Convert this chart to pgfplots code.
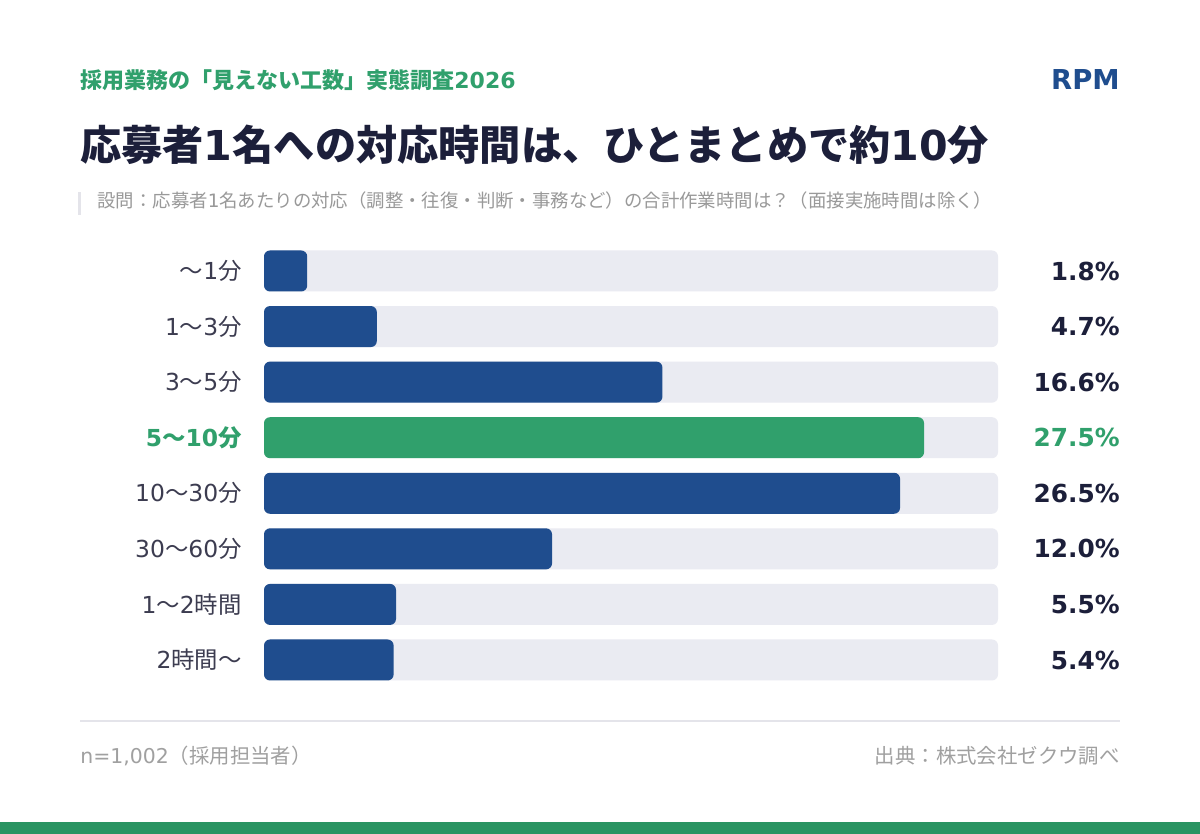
\documentclass[border=0pt]{standalone}
\usepackage{fontspec}
\setmainfont{Noto Sans CJK JP}
\newfontfamily\lat{DejaVu Sans}
\usepackage{pgfplots}
\pgfplotsset{compat=1.18}
\usepackage{pgfplotstable}

\definecolor{barblue}{HTML}{1F4D8E}
\definecolor{hlgreen}{HTML}{30A06C}
\definecolor{track}{HTML}{EAEBF2}
\definecolor{titlenavy}{HTML}{1C1F3A}
\definecolor{labelgray}{HTML}{3C3C50}
\definecolor{qgray}{HTML}{999999}
\definecolor{footgray}{HTML}{A0A0A0}
\definecolor{sepline}{HTML}{E4E4EA}
\definecolor{bandgreen}{HTML}{2A9462}

% share of respondents (%) per time bracket; track = full length of the grey rail
\pgfplotstableread{
idx val track
0 1.8 30.58
1 4.7 30.58
2 16.6 30.58
3 27.5 30.58
4 26.5 30.58
5 12.0 30.58
6 5.5 30.58
7 5.4 30.58
}\timedata

\begin{document}
\begin{tikzpicture}[x=0.5pt,y=0.5pt]
% canvas
\fill[white] (0,0) rectangle (1200,834);

% header
\node[anchor=west, inner sep=0pt, text=hlgreen, font=\fontsize{11}{13}\selectfont\bfseries]
  at (80,754) {採用業務の「見えない工数」実態調査{\lat 2026}};
\node[anchor=east, inner sep=0pt, text=barblue, font=\fontsize{13.7}{16}\selectfont\lat\bfseries]
  at (1120,754) {RPM};
\node[anchor=west, inner sep=0pt, text=titlenavy, font=\fontsize{20.6}{25}\selectfont\bfseries]
  at (80,689) {応募者{\lat 1}名への対応時間は、ひとまとめで約{\lat 10}分};
\fill[sepline] (78,619) rectangle (81,642);
\node[anchor=west, inner sep=0pt, text=qgray, font=\fontsize{9.2}{11}\selectfont]
  at (97,633) {設問：応募者{\lat 1}名あたりの対応（調整・往復・判断・事務など）の合計作業時間は？（面接実施時間は除く）};

\begin{axis}[
  at={(132pt,295.4pt)}, anchor=north west,
  scale only axis,
  width=367pt, height=222.3pt,
  xbar, bar width=20.5pt,
  xmin=0, xmax=30.58,
  ymin=-0.5, ymax=7.5, y dir=reverse,
  axis line style={draw=none},
  tick style={draw=none},
  major tick length=0pt,
  xtick=\empty,
  ytick={0,...,7},
  yticklabels={〜{\lat 1}分, {\lat 1}〜{\lat 3}分, {\lat 3}〜{\lat 5}分,
    {\color{hlgreen}\bfseries{\lat 5}〜{\lat 10}分}, {\lat 10}〜{\lat 30}分,
    {\lat 30}〜{\lat 60}分, {\lat 1}〜{\lat 2}時間, {\lat 2}時間〜},
  yticklabel style={anchor=east, inner sep=0pt, xshift=-11pt, text=labelgray,
    font=\fontsize{11.7}{13}\selectfont},
  every axis plot/.append style={bar shift=0pt, draw=none, rounded corners=3pt},
  clip=false,
]
% grey rails carrying the value labels
\addplot[fill=track, point meta=\thisrow{val},
  y filter/.expression={y==3 ? nan : y},
  nodes near coords={\pgfmathprintnumber[fixed,fixed zerofill,precision=1,assume math mode=true]{\pgfplotspointmeta}\%},
  every node near coord/.append style={anchor=east, inner sep=0pt, xshift=61pt,
    text=titlenavy, font=\fontsize{12.4}{15}\selectfont\lat\bfseries}]
  table[x=track, y=idx] {\timedata};
\addplot[fill=track, point meta=\thisrow{val},
  y filter/.expression={y==3 ? y : nan},
  nodes near coords={\pgfmathprintnumber[fixed,fixed zerofill,precision=1,assume math mode=true]{\pgfplotspointmeta}\%},
  every node near coord/.append style={anchor=east, inner sep=0pt, xshift=61pt,
    text=hlgreen, font=\fontsize{12.4}{15}\selectfont\lat\bfseries}]
  table[x=track, y=idx] {\timedata};
% value bars
\addplot[fill=barblue, y filter/.expression={y==3 ? nan : y}]
  table[x=val, y=idx] {\timedata};
\addplot[fill=hlgreen, y filter/.expression={y==3 ? y : nan}]
  table[x=val, y=idx] {\timedata};
\end{axis}

% footer
\draw[sepline, line width=0.6pt] (80,113) -- (1120,113);
\node[anchor=west, inner sep=0pt, text=footgray, font=\fontsize{10.2}{12}\selectfont]
  at (80,78) {{\lat n=1,002}（採用担当者）};
\node[anchor=east, inner sep=0pt, text=footgray, font=\fontsize{10.2}{12}\selectfont]
  at (1120,78) {出典：株式会社ゼクウ調べ};
\fill[bandgreen] (0,0) rectangle (1200,12);
\end{tikzpicture}
\end{document}
